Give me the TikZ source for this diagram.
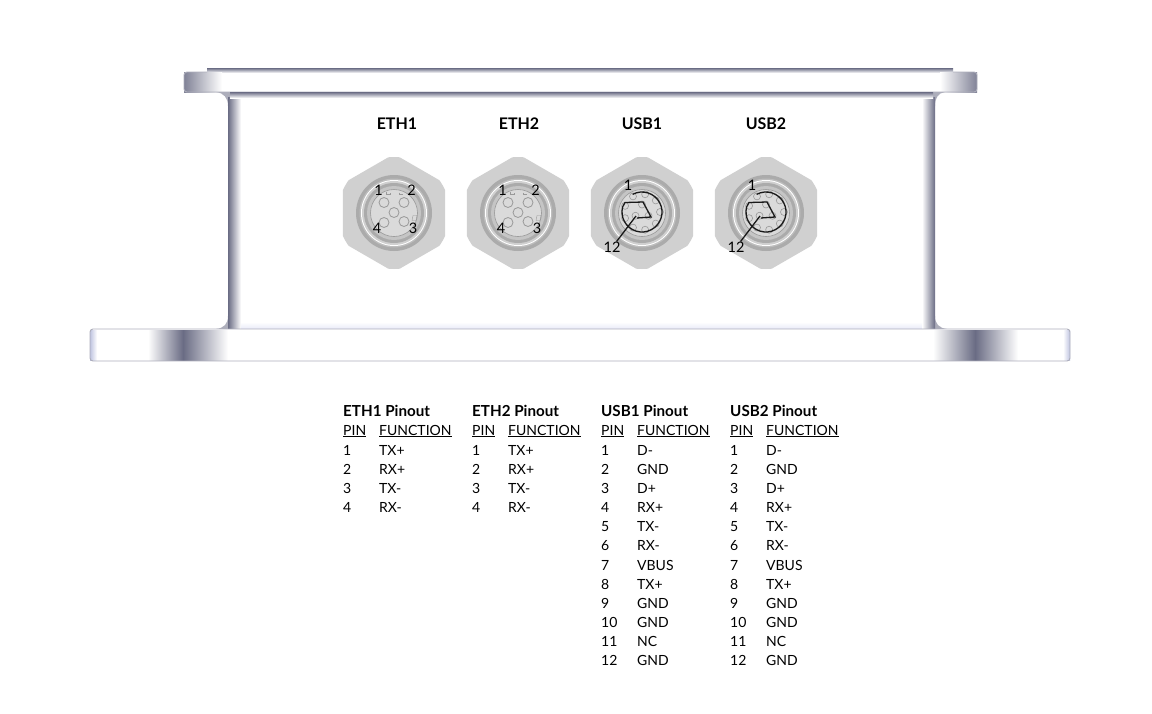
\documentclass[tikz,border=0pt]{standalone}
\usepackage{fontspec}
\setmainfont{Lato}
\definecolor{edgedark}{HTML}{6A6C84}
\definecolor{edgemid}{HTML}{BEC3E0}
\definecolor{edgesoft}{HTML}{E8EAF8}
\definecolor{nutgray}{HTML}{D0D0D0}
\definecolor{bandgray}{HTML}{ABABAB}
\definecolor{facegray}{HTML}{DADADA}
\definecolor{pingray}{HTML}{999999}
\tikzset{
    outline/.style={draw=edgedark!55,line width=0.9pt,rounded corners=3pt},
    portlabel/.style={font=\bfseries\fontsize{16}{18}\selectfont,inner sep=0pt},
    pinnum/.style={font=\fontsize{14.5}{16}\selectfont,inner sep=0.5pt},
    tabletext/.style={font=\fontsize{14}{16}\selectfont,anchor=base west,inner sep=0pt},
    tablehead/.style={font=\bfseries\fontsize{15.2}{16}\selectfont,anchor=base west,inner sep=0pt},
    pinhole/.style={draw=pingray,line width=0.8pt,fill=facegray},
    trace/.style={draw=black!90,line width=1.3pt}
}
% hex nut and rings, centred on #1
\newcommand{\nutbody}[1]{
    \begin{scope}[shift={(#1)}]
        \begin{scope}
            \clip (0,0) circle (56);
            \fill[nutgray] (90:59) -- (30:59) -- (-30:59) -- (-90:59) -- (-150:59) -- (150:59) -- cycle;
        \end{scope}
        \fill[bandgray] (0,0) circle (38);
        \fill[bandgray!50!nutgray] (0,0) circle (34.5);
        \fill[white] (0,0) circle (33);
        \fill[nutgray] (0,0) circle (32);
        \fill[bandgray] (0,0) circle (30);
        \fill[bandgray!30!nutgray] (0,0) circle (27);
        \fill[facegray] (0,0) circle (23.5);
        \draw[pingray,line width=0.6pt] (0,0) circle (23.5);
    \end{scope}
}
\begin{document}
\begin{tikzpicture}[x=1pt,y=-1pt]
    \useasboundingbox (0,0) rectangle (1152,713);
    \fill[white] (0,0) rectangle (1152,713);

    % top plate and top flange
    \shade[top color=edgedark,bottom color=white] (207,68) -- (953,68) -- (953,73) -- (207,73) -- cycle;
    \shade[left color=edgedark!85,middle color=edgemid,right color=white] (184,72) rectangle (222,92);
    \shade[left color=white,middle color=edgemid,right color=edgedark!85] (940,72) rectangle (977,92);
    \draw[edgedark!55,line width=0.9pt,rounded corners=3pt] (207,72) -- (184,72) -- (184,92) -- (977,92) -- (977,72) -- (953,72);

    % body walls with fillets into the flanges
    \fill[edgedark!55] (216,92) .. controls (224,93) and (228,98) .. (228,106) -- (234,106) -- (234,92) -- cycle;
    \fill[edgedark!55] (945,92) .. controls (938,93) and (935,98) .. (935,106) -- (929,106) -- (929,92) -- cycle;
    \fill[edgedark!55] (228,316) .. controls (228,324) and (224,328) .. (216,329) -- (234,329) -- (234,316) -- cycle;
    \fill[edgedark!55] (935,316) .. controls (935,324) and (939,328) .. (947,329) -- (929,329) -- (929,316) -- cycle;
    \shade[left color=edgedark,middle color=edgemid,right color=white] (228,97) rectangle (241,329);
    \shade[left color=white,middle color=edgemid,right color=edgedark] (922,97) rectangle (935,329);
    \shade[top color=edgedark,bottom color=white] (230,92) rectangle (933,98);
    \shade[top color=white,bottom color=edgesoft] (241,322) rectangle (922,329);

    % base flange
    \fill[white] (90,329) rectangle (1070,361);
    \shade[left color=white,middle color=edgemid,right color=edgedark] (148,330) rectangle (183,360);
    \shade[left color=edgedark,middle color=edgemid,right color=white] (183,330) rectangle (228,360);
    \shade[left color=white,middle color=edgemid,right color=edgedark] (933,330) rectangle (975,360);
    \shade[left color=edgedark,middle color=edgemid,right color=white] (975,330) rectangle (1018,360);
    \shade[left color=edgemid,right color=white] (90,330) rectangle (97,360);
    \shade[left color=white,right color=edgemid] (1063,330) rectangle (1070,360);
    \draw[outline] (90,329) rectangle (1070,361);

    % port names
    \node[portlabel] (eth1) at (397,124) {ETH1};
    \node[portlabel] (eth2) at (519,124) {ETH2};
    \node[portlabel] (usb1) at (642,124) {USB1};
    \node[portlabel] (usb2) at (766,124) {USB2};

    \nutbody{394,213}
    \nutbody{518,213}
    \nutbody{642,213}
    \nutbody{766,213}

    % ethernet ports
    \foreach \cx/\nm in {394/etha,518/ethb}{
        \begin{scope}[shift={(\cx,212.5)}]
            \foreach \px/\py in {-10/-10,10/-10,0/0,-10/10,10/9}
                \draw[pinhole] (\px,\py) circle (5);
            \draw[pingray,line width=0.4pt] (-8,-21) -- (-8,-18) -- (-4,-18) -- (-4,-20);
            \draw[pingray,line width=0.4pt] (5,-20) -- (5,-18) -- (9,-18);
            \draw[pingray,line width=0.4pt] (19,3) -- (18,8) -- (22,8) -- (23,3) -- cycle;
            \node[pinnum] (\nm n1) at (-15.5,-22) {1};
            \node[pinnum] (\nm n2) at (17.5,-22) {2};
            \node[pinnum] (\nm n4) at (-17,15.5) {4};
            \node[pinnum] (\nm n3) at (19,15.5) {3};
        \end{scope}
    }

    % usb ports
    \foreach \cx/\nm in {642/usba,766/usbb}{
        \begin{scope}[shift={(\cx,212)}]
            \foreach \ang in {-120,-80,-40,0,40,80,120,160,200}
                \draw[pinhole,line width=0.6pt] (\ang:18) circle (3.5);
            \foreach \ang in {30,150,-90}
                \draw[pinhole,line width=0.6pt] (\ang:7.5) circle (3.5);
            \draw[trace] (-118:20) arc (-118:195:20) -- (-17,-9.5) -- (1,-10) -- (9,5) -- (-5,6);
            \coordinate (\nm end) at (-6,4);
            \node[pinnum] (\nm n1) at (-14,-27) {1};
            \node[pinnum] (\nm n12) at (-30,35.5) {12};
            \draw[trace] (\nm n12) -- (\nm end);
        \end{scope}
    }

    % pinout tables
    \foreach \tx/\nm/\ttl in {343/etha/ETH1,472/ethb/ETH2,601/usba/USB1,730/usbb/USB2}{
        \node[tablehead] (\nm title) at (\tx,416) {\ttl{} Pinout};
        \node[tabletext] (\nm pin) at (\tx,435) {\underline{PIN}};
        \node[tabletext] (\nm func) at (\tx+36,435) {\underline{FUNCTION}};
    }
    \foreach \tx/\nm in {343/etha,472/ethb}
        \foreach \num/\func [count=\rw from 0] in {1/TX+,2/RX+,3/TX-,4/RX-}{
            \node[tabletext] (\nm r\num) at (\tx,455+19.18*\rw) {\num};
            \node[tabletext] (\nm f\num) at (\tx+36,455+19.18*\rw) {\func};
        }
    \foreach \tx/\nm in {601/usba,730/usbb}
        \foreach \num/\func [count=\rw from 0] in {1/D-,2/GND,3/D+,4/RX+,5/TX-,6/RX-,7/VBUS,8/TX+,9/GND,10/GND,11/NC,12/GND}{
            \node[tabletext] (\nm r\num) at (\tx,455+19.18*\rw) {\num};
            \node[tabletext] (\nm f\num) at (\tx+36,455+19.18*\rw) {\func};
        }
\end{tikzpicture}
\end{document}
